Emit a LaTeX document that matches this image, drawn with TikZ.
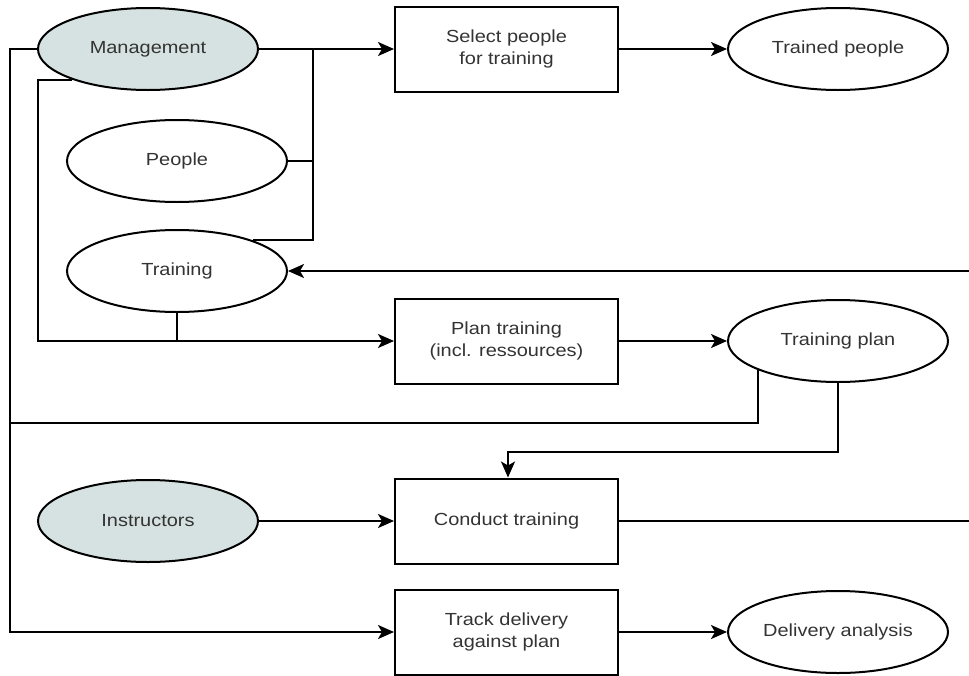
\documentclass[tikz,border=0pt]{standalone}
\usepackage{fontspec}
\setmainfont{Liberation Sans}[FakeStretch=1.14]
\usetikzlibrary{shapes.geometric,arrows.meta}

\definecolor{grijsblauw}{RGB}{214,226,225}

\begin{document}
\begin{tikzpicture}[x=1pt,y=-1pt]

% --- Stijldefinities ---
\tikzset{
    proces/.style={
        draw, line width=2pt,
        minimum width=223pt, minimum height=85pt,
        inner sep=0pt, align=center,
        text=black!80, font=\fontsize{17.5}{22}\selectfont
    },
    middel/.style={
        ellipse, draw, line width=2pt,
        minimum width=220pt, minimum height=82pt,
        inner sep=0pt,
        text=black!80, font=\fontsize{17.5}{22}\selectfont
    },
    lijn/.style={
        line width=2pt
    },
    pijl/.style={
        lijn,
        -{Stealth[length=16pt,width=14pt,inset=4pt]}
    }
}

\useasboundingbox (0,0) rectangle (969,675);

% --- Knooppunten (Nodes) ---
\node[middel, fill=grijsblauw] (mgmt)     at (148,49)    {Management};
\node[middel]                  (people)   at (177,161)   {People};
\node[middel]                  (training) at (177,271)   {Training};
\node[middel, fill=grijsblauw] (instr)    at (148,521)   {Instructors};

\node[proces] (select)  at (506.5,49)  {Select people\\for training};
\node[proces] (plan)    at (506.5,341) {Plan training\\(incl. ressources)};
\node[proces] (conduct) at (506.5,521) {Conduct training};
\node[proces] (track)   at (506.5,632) {Track delivery\\against plan};

\node[middel] (trained)  at (838,49)  {Trained people};
\node[middel] (tplan)    at (838,341) {Training plan};
\node[middel] (analysis) at (838,632) {Delivery analysis};

% --- Hulppunten ---
\coordinate (samen)   at (313,49);
\coordinate (hoek)    at (38,341);
\coordinate (buiten)  at (10,632);
\coordinate (terug)   at (10,423);
\coordinate (knik)    at (508,452);
\coordinate (rechts1) at (969,521);
\coordinate (rechts2) at (969,271);

% --- Pijlen ---
\draw[pijl] (mgmt) -- (select);
\draw[lijn] (people.east) -| (samen);
\draw[lijn] (training.22) -| (samen);
\draw[pijl] (select) -- (trained);

\draw[pijl] (mgmt.202) -| (hoek) -- (plan.west);
\draw[lijn] (training.south) -- (training.south |- hoek);
\draw[pijl] (plan) -- (tplan);

\draw[pijl] (mgmt.west) -| (buiten) -- (track.west);
\draw[lijn] (tplan.200) |- (terug);
\draw[pijl] (tplan.south) |- (knik) -- (knik |- conduct.north);

\draw[pijl] (instr) -- (conduct);
\draw[lijn] (conduct.east) -- (rechts1);
\draw[pijl] (rechts2) -- (training.east);
\draw[pijl] (track) -- (analysis);
\end{tikzpicture}
\end{document}
